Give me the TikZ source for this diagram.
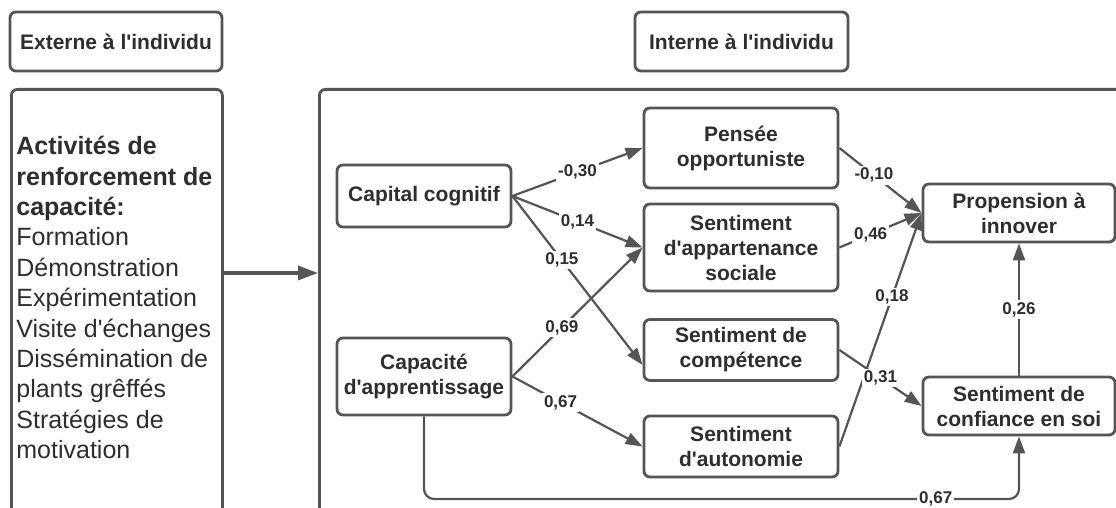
\documentclass[tikz,border=0pt]{standalone}
\usepackage{fontspec}
\setmainfont{Liberation Sans}[Ligatures=TeXOff]
\usetikzlibrary{arrows.meta,calc}
\definecolor{ln}{HTML}{555555}
\definecolor{tx}{HTML}{2E2E2E}
\begin{document}
\begin{tikzpicture}[x=0.5pt,y=-0.5pt,
  box/.style={draw=ln, line width=1.4pt, rounded corners=3pt, text=tx,
    font=\bfseries\fontsize{10.5}{12.5}\selectfont, align=center, inner sep=0pt},
  frame/.style={draw=ln, line width=1.4pt, rounded corners=3pt, inner sep=0pt},
  conn/.style={draw=ln, line width=1.1pt, -{Triangle[length=8.5pt,width=6pt]}},
  bigconn/.style={draw=ln, line width=1.6pt, -{Triangle[length=10pt,width=7pt]}},
  lab/.style={fill=white, text=tx, font=\bfseries\fontsize{8.5}{10}\selectfont, inner sep=1pt}]
\useasboundingbox (0,0) rectangle (1116,508);
\clip (0,0) rectangle (1116,508);
\fill[white] (0,0) rectangle (1116,508);

% header boxes
\node[box, minimum width=106pt, minimum height=29.5pt] (ext) at (116,41.5) {Externe à l'individu};
\node[box, minimum width=106.5pt, minimum height=29.5pt] (int) at (741.5,41.5) {Interne à l'individu};

% big frames (cut off at the bottom / right)
\node[frame, minimum width=105.5pt, minimum height=230pt, anchor=north west] (lbox) at (10,88) {};
\node[frame, minimum width=420pt, minimum height=230pt, anchor=north west] (rbox) at (318,88) {};

% left text
\node[anchor=north west, align=left, text=tx, font=\fontsize{12.5}{15.2}\selectfont, inner sep=0pt] (ltxt) at (16,136)
  {\textbf{Activités de}\\ \textbf{renforcement de}\\ \textbf{capacité:}\\ Formation\\ Démonstration\\ Expérimentation\\ Visite d'échanges\\ Dissémination de\\ plants grêffés\\ Stratégies de\\ motivation};

\coordinate (arr) at (0,273);
\draw[bigconn] (lbox.east |- arr) -- (rbox.west |- arr);

% model nodes
\node[box, minimum width=87pt, minimum height=31pt] (cap) at (424,196) {Capital cognitif};
\node[box, minimum width=87pt, minimum height=38.5pt] (capa) at (424,376.5) {Capacité\\d'apprentissage};
\node[box, minimum width=97pt, minimum height=40pt] (pen) at (741,148) {Pensée\\opportuniste};
\node[box, minimum width=97pt, minimum height=43.5pt] (app) at (741,247.5) {Sentiment\\d'appartenance\\sociale};
\node[box, minimum width=97pt, minimum height=30.5pt] (comp) at (741,350) {Sentiment de\\compétence};
\node[box, minimum width=97pt, minimum height=30.5pt] (aut) at (741,446.5) {Sentiment\\d'autonomie};
\node[box, minimum width=96pt, minimum height=29pt] (prop) at (1019,213) {Propension à\\innover};
\node[box, minimum width=96pt, minimum height=29pt] (conf) at (1019,406) {Sentiment de\\confiance en soi};

% connectors
\draw[conn] (cap.east) -- node[lab]{-0,30} (pen.west);
\draw[conn] (cap.east) -- node[lab]{0,14} (app.west);
\draw[conn] (cap.east) -- node[lab,pos=.38]{0,15} ($(comp.west)+(0,15)$);
\draw[conn] (capa.east) -- node[lab,pos=.38]{0,69} (app.west);
\draw[conn] (capa.east) -- node[lab,pos=.37]{0,67} (aut.west);
\draw[conn] (pen.east) -- node[lab,pos=.42]{-0,10} (prop.west);
\draw[conn] (app.east) -- node[lab,pos=.38]{0,46} (prop.west);
\draw[conn] (aut.east) -- node[lab,pos=.64]{0,18} (prop.west);
\draw[conn] (comp.east) -- node[lab,pos=.5]{0,31} (conf.west);
\draw[conn] (conf.north) -- node[lab]{0,26} (prop.south);
\coordinate (bl) at (0,499);
\draw[conn, rounded corners=5pt] (capa.south) -- (capa.south |- bl) -- node[lab,pos=.86]{0,67} (conf.south |- bl) -- (conf.south);
\end{tikzpicture}
\end{document}
